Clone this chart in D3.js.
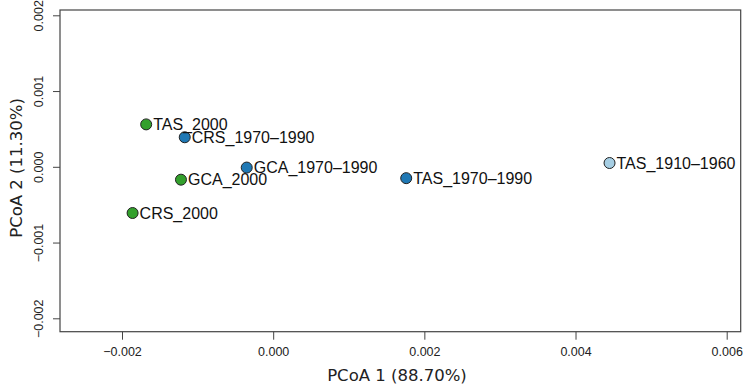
<!DOCTYPE html>
<html>
<head>
<meta charset="utf-8">
<script src="https://cdn.jsdelivr.net/npm/d3@7"></script>
<style>
  body { margin: 0; background: #fff; }
  svg { display: block; }
</style>
</head>
<body>
<div id="chart"><svg width="743" height="386"></svg></div>
<script>
const sampleNames = ['TAS_2000', 'CRS_1970–1990', 'GCA_1970–1990', 'GCA_2000', 'CRS_2000', 'TAS_1970–1990', 'TAS_1910–1960'];
const pcoa1 = [-0.00168, -0.00117, -0.00035, -0.00122, -0.00186, 0.00176, 0.00445];
const pcoa2 = [0.00056, 0.00039, -0.00001, -0.00017, -0.00061, -0.00015, 0.00005];
const groups = ['2000', '1970', '1970', '2000', '2000', '1970', '1910'];

const xTicks = [-0.002, 0.000, 0.002, 0.004, 0.006];
const yTicks = [-0.002, -0.001, 0.000, 0.001, 0.002];

const svg = d3.select('#chart svg');

const LEFT = 60, RIGHT = 740.7, TOP = 10, BOTTOM = 331.7;

const X_SCALE = d3.scaleLinear()
  .domain([-0.002, 0.006])
  .range([122, 726.7]);

const Y_SCALE = d3.scaleLinear()
  .domain([-0.002, 0.002])
  .range([318.3, 15.3]);

const COLOR = d3.scaleOrdinal()
  .domain(['2000', '1970', '1910'])
  .range(['#33a02c', '#1f78b4', '#a6cee3']);

const axisColor = '#444';

// x axis
const xAxis = d3.axisBottom(X_SCALE)
  .tickValues(xTicks)
  .tickFormat(d3.format('.3f'))
  .tickSizeInner(8)
  .tickSizeOuter(0)
  .tickPadding(7);

svg.append('g')
  .attr('transform', `translate(0,${BOTTOM})`)
  .call(xAxis)
  .attr('font-size', 12.5)
  .attr('font-family', '"Liberation Sans", Arial, sans-serif')
  .call(g => g.select('.domain').remove())
  .call(g => g.selectAll('line').attr('stroke', axisColor))
  .call(g => g.selectAll('text').attr('fill', '#222'));

// y axis (labels rotated, R style)
const yAxis = d3.axisLeft(Y_SCALE)
  .tickValues(yTicks)
  .tickFormat(d3.format('.3f'))
  .tickSizeInner(7)
  .tickSizeOuter(0)
  .tickPadding(6);

svg.append('g')
  .attr('transform', `translate(${LEFT},0)`)
  .call(yAxis)
  .attr('font-size', 12.5)
  .attr('font-family', '"Liberation Sans", Arial, sans-serif')
  .call(g => g.select('.domain').remove())
  .call(g => g.selectAll('line').attr('stroke', axisColor))
  .call(g => g.selectAll('text')
    .attr('fill', '#222')
    .attr('x', null)
    .attr('dy', null)
    .attr('transform', 'translate(-17,0) rotate(-90)')
    .attr('text-anchor', 'middle'));

// box
svg.append('rect')
  .attr('x', LEFT)
  .attr('y', TOP)
  .attr('width', RIGHT - LEFT)
  .attr('height', BOTTOM - TOP)
  .attr('fill', 'none')
  .attr('stroke', axisColor)
  .attr('stroke-width', 1.2);

// points
svg.append('g')
  .selectAll('circle')
  .data(sampleNames)
  .join('circle')
  .attr('cx', (d, i) => X_SCALE(pcoa1[i]))
  .attr('cy', (d, i) => Y_SCALE(pcoa2[i]))
  .attr('r', 5.5)
  .attr('fill', (d, i) => COLOR(groups[i]))
  .attr('stroke', '#222')
  .attr('stroke-width', 1);

// labels
svg.append('g')
  .selectAll('text')
  .data(sampleNames)
  .join('text')
  .text(d => d)
  .attr('x', (d, i) => X_SCALE(pcoa1[i]) + 7)
  .attr('y', (d, i) => Y_SCALE(pcoa2[i]) + 5.6)
  .attr('fill', '#111')
  .style('font-family', '"Liberation Sans", Arial, sans-serif')
  .style('font-size', '16px');

// axis titles
svg.append('text')
  .text('PCoA 1 (88.70%)')
  .attr('x', 397)
  .attr('y', 381)
  .attr('fill', '#222')
  .style('text-anchor', 'middle')
  .style('font-family', '"DejaVu Sans", Verdana, sans-serif')
  .style('font-size', '16.5px');

svg.append('text')
  .text('PCoA 2 (11.30%)')
  .attr('transform', 'translate(22,168) rotate(-90)')
  .attr('fill', '#222')
  .style('text-anchor', 'middle')
  .style('font-family', '"DejaVu Sans", Verdana, sans-serif')
  .style('font-size', '16.5px');
</script>
</body>
</html>
